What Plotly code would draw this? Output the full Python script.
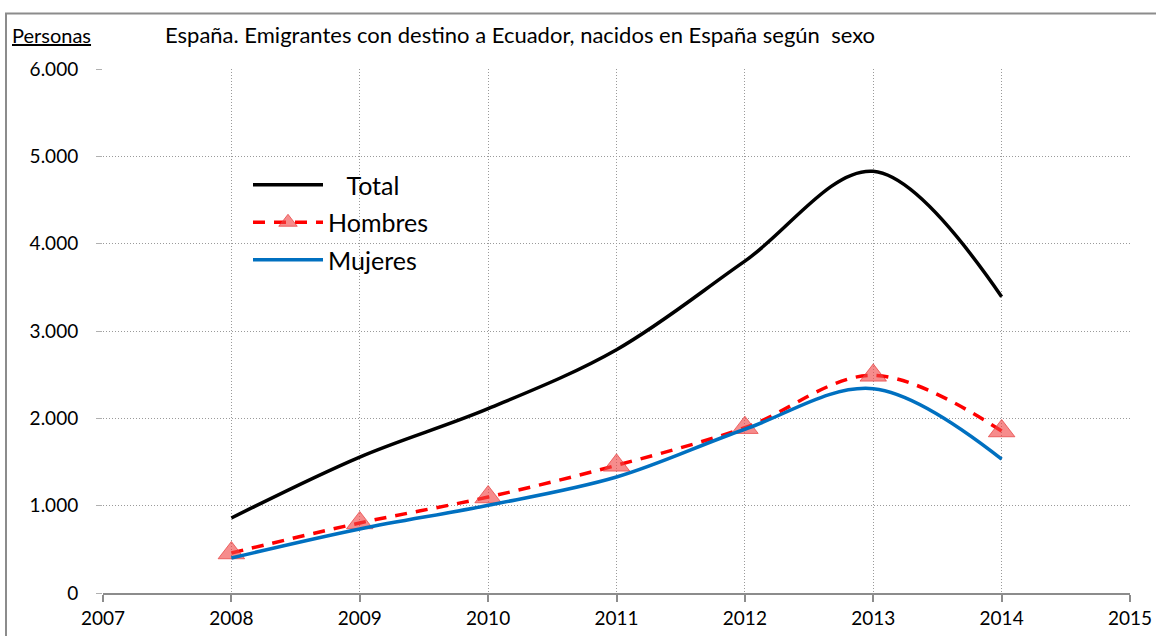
import plotly.graph_objects as go

years = [2008, 2009, 2010, 2011, 2012, 2013, 2014]
total = [859, 1557, 2111, 2786, 3800, 4828, 3393]
hombres = [458, 802, 1099, 1462, 1893, 2492, 1855]
mujeres = [401, 733, 1004, 1328, 1875, 2340, 1534]

title_text = "España. Emigrantes con destino a Ecuador, nacidos en España según\u00a0\u00a0sexo"
y_label = "Personas"
names = ["\u00a0\u00a0\u00a0Total", "Hombres", "Mujeres"]

FONT = "Lato"

fig = go.Figure()
fig.add_trace(go.Scatter(
    x=years, y=total, name=names[0], mode="lines",
    line=dict(color="black", width=3.5, shape="spline", smoothing=1),
    legendgroup="a",
))
fig.add_trace(go.Scatter(
    x=years, y=hombres, name=names[1], mode="lines+markers",
    line=dict(color="#FF0000", width=3.5, dash="12px,9px", shape="spline", smoothing=1),
    marker=dict(symbol="triangle-up", size=23, color="rgba(240,70,70,0.62)",
                line=dict(color="rgba(230,60,60,0.7)", width=1)),
    legendgroup="b",
))
fig.add_trace(go.Scatter(
    x=years, y=mujeres, name=names[2], mode="lines",
    line=dict(color="#0070C0", width=3.5, shape="spline", smoothing=1),
    legendgroup="c",
))

L, R, T, B = 103, 26, 69, 43
W, H = 1156, 636
pw, ph = W - L - R, H - T - B

def px_x(p):
    return (p - L) / pw

def px_y(p):
    return (H - B - p) / ph

fig.update_layout(
    width=W, height=H,
    margin=dict(l=L, r=R, t=T, b=B, pad=0),
    paper_bgcolor="white", plot_bgcolor="white",
    separators=",.",
    font=dict(family=FONT, color="black", size=19),
    showlegend=True,
    legend=dict(
        x=px_x(248), y=px_y(162), xanchor="left", yanchor="top",
        font=dict(size=25, family=FONT),
        bgcolor="rgba(0,0,0,0)", itemwidth=70,
        traceorder="grouped", tracegroupgap=2,
    ),
    xaxis=dict(
        range=[2007, 2015], dtick=1, tick0=2007, automargin=False,
        showgrid=True, gridcolor="#9a9a9a", griddash="1px,2px", gridwidth=1,
        showline=True, linecolor="#8c8c8c", linewidth=1.5,
        ticks="outside", ticklen=7, tickcolor="#8c8c8c", tickwidth=1.5,
        tickfont=dict(size=19, family=FONT), zeroline=False,
    ),
    yaxis=dict(
        range=[0, 6000], dtick=1000, tickformat=",d", automargin=False,
        showgrid=True, gridcolor="#9a9a9a", griddash="1px,2px", gridwidth=1,
        showline=False, ticks="outside", ticklen=6, tickcolor="#b0b0b0",
        tickfont=dict(size=19, family=FONT), zeroline=False,
        ticklabelstandoff=14,
    ),
)

fig.add_annotation(
    xref="paper", yref="paper", x=px_x(163), y=px_y(35),
    xanchor="left", yanchor="middle", showarrow=False,
    text=title_text, font=dict(size=22, family=FONT),
)
fig.add_annotation(
    xref="paper", yref="paper", x=px_x(10), y=px_y(35),
    xanchor="left", yanchor="middle", showarrow=False,
    text="<u>" + y_label + "</u>", font=dict(size=20, family=FONT),
)

# outer chart border (top and left visible; right/bottom fall off the page)
fig.add_shape(type="rect", xref="paper", yref="paper",
              x0=px_x(6), x1=px_x(1170), y0=px_y(13.5), y1=px_y(650),
              line=dict(color="#8c8c8c", width=2), fillcolor="rgba(0,0,0,0)",
              layer="above")

fig.write_html("out.html",
               config={"displayModeBar": False},
               post_script="document.body.style.margin='0';document.body.style.overflow='hidden';")
